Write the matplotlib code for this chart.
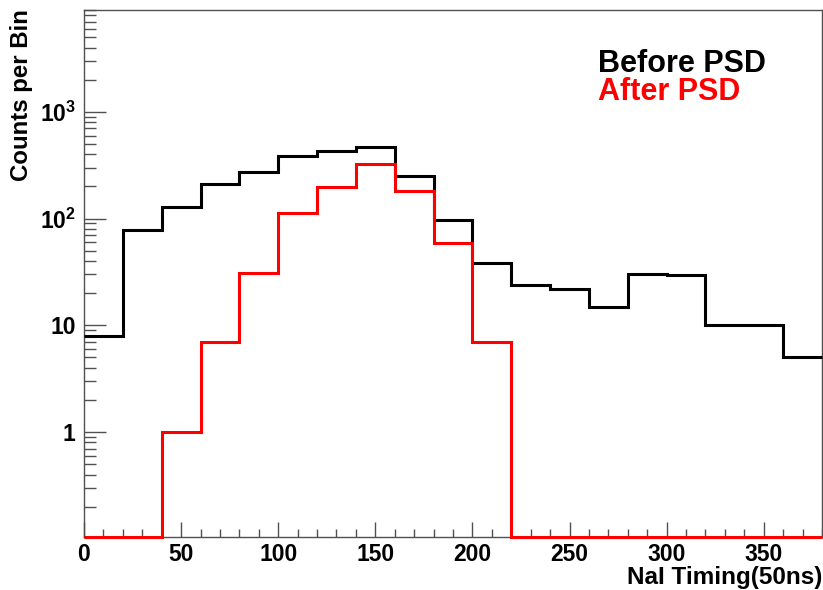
import numpy as np
import matplotlib
matplotlib.use("Agg")
import matplotlib.pyplot as plt
from matplotlib.ticker import FixedLocator, LogLocator, MultipleLocator, FuncFormatter

# -----------------------------
# DATA (20-unit bins, 0..380)
# -----------------------------
BIN_EDGES = np.arange(0, 381, 20)

before_psd = [8, 78, 129, 210, 275, 386, 433, 469, 251, 98,
              38.6, 24, 22, 15, 30.5, 29.6, 10, 10, 5]
after_psd = [0, 0, 1, 7, 31, 112, 199, 323, 181, 58.7,
             7, 0, 0, 0, 0, 0, 0, 0, 0]

Y_MIN, Y_MAX = 0.104, 9000
X_MIN, X_MAX = 0, 380

Y_TICKS = [1, 10, 100, 1000]
Y_TICK_LABELS = ["1", "10", "$10^{2}$", "$10^{3}$"]

# -----------------------------
# STYLE
# -----------------------------
plt.rcParams["font.family"] = ["Liberation Sans", "DejaVu Sans"]
plt.rcParams["font.weight"] = "bold"
plt.rcParams["mathtext.fontset"] = "custom"
plt.rcParams["mathtext.rm"] = "Liberation Sans:bold"
plt.rcParams["mathtext.it"] = "Liberation Sans:bold"
plt.rcParams["mathtext.bf"] = "Liberation Sans:bold"

W, H = 823, 590
fig = plt.figure(figsize=(W / 100, H / 100), dpi=100)
ax = fig.add_axes([84 / W, 1 - 537 / H, (822 - 84) / W, (537 - 10) / H])

# zero bins sit on the frame floor, as in ROOT
before_draw = np.where(np.array(before_psd) > 0, before_psd, Y_MIN)
after_draw = np.where(np.array(after_psd) > 0, after_psd, Y_MIN)

ax.stairs(before_draw, BIN_EDGES, color="black", linewidth=2.2,
          baseline=None, clip_on=False, zorder=3)
ax.stairs(after_draw, BIN_EDGES, color="#ff0000", linewidth=2.2,
          baseline=None, clip_on=False, zorder=4)

ax.set_yscale("log")
ax.set_xlim(X_MIN, X_MAX)
ax.set_ylim(Y_MIN, Y_MAX)

ax.yaxis.set_major_locator(FixedLocator(Y_TICKS))
ax.yaxis.set_major_formatter(
    FuncFormatter(lambda v, pos: Y_TICK_LABELS[Y_TICKS.index(round(v))]
                  if round(v) in Y_TICKS else ""))
ax.yaxis.set_minor_locator(LogLocator(base=10, subs=np.arange(2, 10), numticks=20))
ax.yaxis.set_minor_formatter(FuncFormatter(lambda v, pos: ""))

ax.xaxis.set_major_locator(MultipleLocator(50))
ax.xaxis.set_minor_locator(MultipleLocator(10))

spine_color = "#505050"
for s in ax.spines.values():
    s.set_color(spine_color)
    s.set_linewidth(1.0)

ax.tick_params(axis="both", which="both", direction="in", color=spine_color,
               width=1.0, labelsize=16.5, top=False, right=False)
ax.tick_params(axis="y", which="major", length=16, pad=6)
ax.tick_params(axis="y", which="minor", length=8.5)
ax.tick_params(axis="x", which="major", length=10.5, pad=4)
ax.tick_params(axis="x", which="minor", length=5.8)

for lab in ax.get_xticklabels() + ax.get_yticklabels():
    lab.set_fontweight("bold")

# axis titles, ROOT style (right / top aligned)
fig.text(822 / W, 1 - 584 / H, "NaI Timing(50ns)", ha="right", va="baseline",
         fontsize=17.5, fontweight="bold")
fig.text(22 / W, 1 - 9 / H, "Counts per Bin", ha="center", va="top",
         rotation=90, fontsize=17.3, fontweight="bold")

# legend as plain text
fig.text(598 / W, 1 - 72 / H, "Before PSD", ha="left", va="baseline",
         fontsize=22, fontweight="bold", color="black")
fig.text(598 / W, 1 - 100 / H, "After PSD", ha="left", va="baseline",
         fontsize=22, fontweight="bold", color="#ff0000")

fig.savefig("out.png", dpi=100)
